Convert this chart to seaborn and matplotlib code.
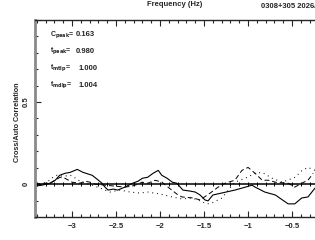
import numpy as np
import pandas as pd
import matplotlib
matplotlib.use("Agg")
import matplotlib.pyplot as plt
import seaborn as sns
from matplotlib.ticker import MultipleLocator, FixedLocator

# cross/auto correlation traces (lag axis in Hz)
solid_x = [-3.42, -3.34, -3.25, -3.19, -3.14, -3.08, -3.02, -2.94, -2.875, -2.77, -2.70,
           -2.66, -2.625, -2.59, -2.53, -2.48, -2.40, -2.31, -2.25, -2.20, -2.14, -2.08,
           -2.02, -1.98, -1.92, -1.86, -1.81, -1.74, -1.66, -1.60, -1.545, -1.49, -1.455,
           -1.40, -1.30, -1.15, -1.03, -0.955, -0.92, -0.81, -0.69, -0.61, -0.545, -0.47,
           -0.39, -0.32, -0.24]
solid_y = [-0.012, -0.006, 0.006, 0.024, 0.054, 0.066, 0.072, 0.09, 0.072, 0.054, 0.024,
           0.006, -0.018, -0.036, -0.03, -0.036, -0.018, 0.006, 0.018, 0.036, 0.042, 0.066,
           0.084, 0.054, 0.036, 0.012, 0.006, -0.036, -0.042, -0.048, -0.066, -0.096, -0.102,
           -0.066, -0.054, -0.036, -0.018, -0.006, -0.018, -0.048, -0.066, -0.096, -0.12, -0.12,
           -0.084, -0.078, -0.024]

dash_x = [-3.42, -3.307, -3.25, -3.19, -3.136, -3.08, -3.0, -2.91, -2.85, -2.795, -2.74,
          -2.625, -2.51, -2.40, -2.32, -2.25, -2.205, -2.136, -2.057, -1.977, -1.91, -1.795,
          -1.75, -1.625, -1.545, -1.43, -1.34, -1.26, -1.15, -1.07, -1.0, -0.92, -0.84,
          -0.77, -0.69, -0.545, -0.47, -0.39, -0.32, -0.26]
dash_y = [0.0, 0.006, 0.006, 0.024, 0.042, 0.036, 0.012, 0.006, 0.018, 0.012, 0.0,
          -0.006, -0.012, -0.018, -0.012, 0.0, 0.012, 0.006, 0.024, 0.012, -0.018, -0.066,
          -0.078, -0.084, -0.096, -0.054, -0.018, 0.006, 0.024, 0.084, 0.102, 0.066, 0.024,
          0.024, 0.012, 0.006, -0.018, 0.006, 0.024, 0.066]

dot_x = [-3.42, -3.34, -3.27, -3.216, -3.17, -3.10, -3.02, -2.99, -2.93, -2.85, -2.77,
         -2.68, -2.57, -2.455, -2.34, -2.23, -2.136, -2.0, -1.86, -1.75, -1.636, -1.545,
         -1.466, -1.41, -1.295, -1.227, -1.15, -1.034, -0.92, -0.84, -0.727, -0.61, -0.466,
         -0.386, -0.32, -0.24]
dot_y = [-0.006, 0.0, 0.018, 0.042, 0.054, 0.048, 0.054, 0.048, 0.024, 0.006, -0.006,
         -0.024, -0.048, -0.036, -0.048, -0.054, -0.048, -0.06, -0.078, -0.09, -0.084, -0.102,
         -0.12, -0.114, -0.084, -0.036, 0.012, 0.036, 0.066, 0.072, 0.036, 0.012, 0.042,
         0.084, 0.102, 0.084]

stat_names = [r"C$_{\rm peak}$=", r"t$_{\rm peak}$=", r"t$_{\rm mtlp}$=", r"t$_{\rm mdlp}$="]
stat_values = ["0.163", "0.980", "1.000", "1.004"]

sns.set_style("ticks")
plt.rcParams["font.family"] = ["Liberation Sans", "DejaVu Sans"]
plt.rcParams["font.weight"] = "bold"
plt.rcParams["mathtext.default"] = "regular"

fig = plt.figure(figsize=(3.15, 2.4), dpi=100)
ax = fig.add_axes([35 / 315, 23 / 240, 280 / 315, 197 / 240])

ax.axhline(0, color="black", lw=1.1, zorder=1)
zero_ticks = np.arange(-3.4, -0.2, 0.1)
ax.plot(zero_ticks, np.zeros_like(zero_ticks), "|", color="black", ms=3, mew=0.7)

sns.lineplot(x=solid_x, y=solid_y, ax=ax, color="black", lw=0.8)
sns.lineplot(x=dash_x, y=dash_y, ax=ax, color="black", lw=0.7)
ax.lines[-1].set_linestyle((0, (5, 3)))
sns.lineplot(x=dot_x, y=dot_y, ax=ax, color="black", lw=0.8)
ax.lines[-1].set_linestyle((0, (0.8, 3.5)))

ax.set_xlim(-3.42, -0.24)
ax.set_ylim(-0.2, 1.0)
ax.xaxis.set_major_locator(MultipleLocator(0.5))
ax.xaxis.set_minor_locator(MultipleLocator(0.1))
ax.yaxis.set_major_locator(FixedLocator([0, 0.5, 1.0]))
ax.yaxis.set_minor_locator(MultipleLocator(0.1))
ax.set_yticklabels(["0", "0.5", ""], rotation=90, va="center")
ax.set_xticklabels([f"\u2212{abs(v):g}" if v < 0 else f"{v:g}" for v in ax.get_xticks()])

ax.tick_params(which="both", direction="in", top=True, right=False,
               labelsize=5.5, pad=4, width=0.8)
ax.tick_params(which="major", length=4)
ax.tick_params(which="minor", length=2)
ax.spines["right"].set_visible(False)
ax.spines["left"].set_color("#8a8a8a")
ax.spines["left"].set_linewidth(2)
ax.spines["top"].set_linewidth(1)
ax.spines["bottom"].set_linewidth(1)
ax.set_xlabel("")
ax.set_ylabel("")

for i, (name, val) in enumerate(zip(stat_names, stat_values)):
    yy = 0.925 - i * 0.085
    ax.text(0.054, yy, name, transform=ax.transAxes, fontsize=5, va="center")
    ax.text(0.145 if i < 2 else 0.155, yy, val, transform=ax.transAxes, fontsize=5.5,
            va="center")

fig.text(175 / 315, 1 - 5 / 240, "Frequency (Hz)", ha="center", va="center", fontsize=5.5)
fig.text(261 / 315, 1 - 6 / 240, "0308+305 2026/", ha="left", va="center", fontsize=5.5)
fig.text(18 / 315, 0.49, "Cross/Auto Correlation", rotation=90, ha="center", va="center",
         fontsize=5.2)

fig.savefig("out.png", dpi=100)
